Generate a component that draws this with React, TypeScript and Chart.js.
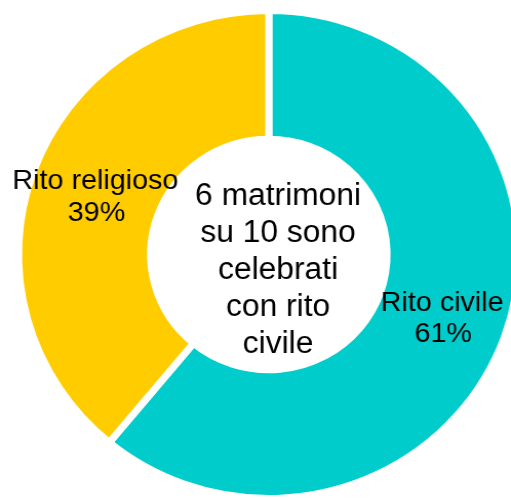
import React, { useEffect, useRef } from "react";
import { Chart, registerables } from "chart.js";

Chart.register(...registerables);

const categories = ["Rito civile", "Rito religioso"];
const values = [61, 39];
const percentLabels = ["61%", "39%"];
const centerLines = ["6 matrimoni", "su 10 sono", "celebrati", "con rito", "civile"];
const colors = ["#00CCCC", "#FFCC00"];

const SCALE_X = 1.026;
const W = 524;
const H = 509;
const FONT = "'Liberation Sans', Arial, sans-serif";

export default function App() {
  const ref = useRef<HTMLCanvasElement>(null);

  useEffect(() => {
    const canvas = ref.current;
    if (!canvas) return;

    const textPlugin = {
      id: "doughnutTexts",
      afterDatasetsDraw(chart: any) {
        const ctx = chart.ctx;
        const meta = chart.getDatasetMeta(0);
        ctx.save();
        ctx.fillStyle = "#000000";
        ctx.textAlign = "center";
        ctx.textBaseline = "alphabetic";
        ctx.font = `28px ${FONT}`;
        meta.data.forEach((arc: any, i: number) => {
          const p = arc.tooltipPosition(false);
          ctx.fillText(categories[i], p.x, p.y - 4.5);
          ctx.fillText(percentLabels[i], p.x + 1, p.y + 27);
        });
        const c = meta.data[0];
        ctx.font = `31px ${FONT}`;
        centerLines.forEach((line, i) => {
          ctx.fillText(line, c.x + 9, c.y - 49.5 + i * 37);
        });
        ctx.restore();
      },
    };

    const chart = new Chart(canvas, {
      type: "doughnut",
      data: {
        labels: categories,
        datasets: [
          {
            data: values,
            backgroundColor: colors,
            borderColor: "#ffffff",
            borderWidth: 7,
            borderJoinStyle: "miter",
            hoverOffset: 0,
          },
        ],
      },
      options: {
        responsive: false,
        animation: false,
        devicePixelRatio: 1,
        radius: 244,
        cutout: 118.5,
        layout: { padding: 0 },
        events: [],
        plugins: {
          legend: { display: false },
          tooltip: { enabled: false },
        },
      } as any,
      plugins: [textPlugin],
    });

    return () => chart.destroy();
  }, []);

  return (
    <div
      style={{
        position: "fixed",
        left: 0,
        top: 0,
        width: 511,
        height: 498,
        overflow: "hidden",
        background: "#ffffff",
      }}
    >
      <div
        style={{
          transform: `scaleX(${SCALE_X})`,
          transformOrigin: "0 0",
          width: W,
          height: H,
        }}
      >
        <canvas
          ref={ref}
          width={W}
          height={H}
          style={{ display: "block", width: W, height: H }}
        />
      </div>
    </div>
  );
}
